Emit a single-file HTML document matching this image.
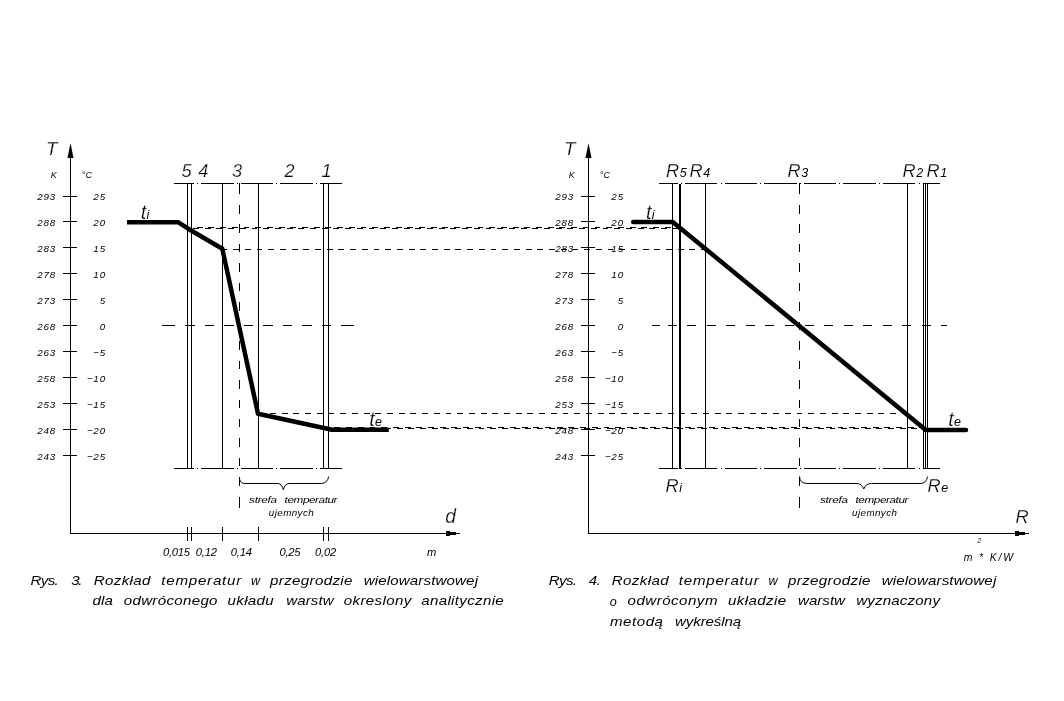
<!DOCTYPE html>
<html lang="pl">
<head>
<meta charset="utf-8">
<title>Rys. 3 i Rys. 4 – Rozkład temperatur w przegrodzie wielowarstwowej</title>
<style>
html,body{margin:0;padding:0;background:#fff;}
body{width:1064px;height:701px;overflow:hidden;}
svg{display:block;will-change:transform;}
text{font-family:"Liberation Sans",sans-serif;font-style:italic;fill:#000;}
.t{stroke:#fff;stroke-width:0.25px;}
.n{}
.s{stroke:none;}
.c{}
</style>
</head>
<body>
<svg width="1064" height="701" viewBox="0 0 1064 701">
<rect width="1064" height="701" fill="#fff"/>
<g id="fig3">
<line x1="70.5" y1="146" x2="70.5" y2="534" stroke="#000" stroke-width="1" shape-rendering="crispEdges"/>
<path d="M70.5 143.5 L69.9 146 L67.5 158 L73.5 158 L71.1 146 Z" fill="#000"/>
<line x1="70.0" y1="533.5" x2="452" y2="533.5" stroke="#000" stroke-width="1" shape-rendering="crispEdges"/>
<line x1="452" y1="533.5" x2="460" y2="533.5" stroke="#000" stroke-width="1" shape-rendering="crispEdges"/>
<rect x="446" y="531" width="4" height="5" fill="#000" shape-rendering="crispEdges"/>
<rect x="450" y="532" width="6" height="3" fill="#000" shape-rendering="crispEdges"/>
<line x1="63.0" y1="196.5" x2="77.0" y2="196.5" stroke="#000" stroke-width="1" shape-rendering="crispEdges"/>
<text x="56.05" y="200" font-size="9.8" class="n" text-anchor="end" letter-spacing="0.85">293</text>
<text x="105.95" y="200" font-size="9.8" class="n" text-anchor="end" letter-spacing="0.85">25</text>
<line x1="63.0" y1="221.5" x2="77.0" y2="221.5" stroke="#000" stroke-width="1" shape-rendering="crispEdges"/>
<text x="56.05" y="226" font-size="9.8" class="n" text-anchor="end" letter-spacing="0.85">288</text>
<text x="105.95" y="226" font-size="9.8" class="n" text-anchor="end" letter-spacing="0.85">20</text>
<line x1="63.0" y1="247.5" x2="77.0" y2="247.5" stroke="#000" stroke-width="1" shape-rendering="crispEdges"/>
<text x="56.05" y="252" font-size="9.8" class="n" text-anchor="end" letter-spacing="0.85">283</text>
<text x="105.95" y="252" font-size="9.8" class="n" text-anchor="end" letter-spacing="0.85">15</text>
<line x1="63.0" y1="273.5" x2="77.0" y2="273.5" stroke="#000" stroke-width="1" shape-rendering="crispEdges"/>
<text x="56.05" y="278" font-size="9.8" class="n" text-anchor="end" letter-spacing="0.85">278</text>
<text x="105.95" y="278" font-size="9.8" class="n" text-anchor="end" letter-spacing="0.85">10</text>
<line x1="63.0" y1="299.5" x2="77.0" y2="299.5" stroke="#000" stroke-width="1" shape-rendering="crispEdges"/>
<text x="56.05" y="304" font-size="9.8" class="n" text-anchor="end" letter-spacing="0.85">273</text>
<text x="105.95" y="304" font-size="9.8" class="n" text-anchor="end" letter-spacing="0.85">5</text>
<line x1="63.0" y1="325.5" x2="77.0" y2="325.5" stroke="#000" stroke-width="1" shape-rendering="crispEdges"/>
<text x="56.05" y="330" font-size="9.8" class="n" text-anchor="end" letter-spacing="0.85">268</text>
<text x="105.95" y="330" font-size="9.8" class="n" text-anchor="end" letter-spacing="0.85">0</text>
<line x1="63.0" y1="351.5" x2="77.0" y2="351.5" stroke="#000" stroke-width="1" shape-rendering="crispEdges"/>
<text x="56.05" y="356" font-size="9.8" class="n" text-anchor="end" letter-spacing="0.85">263</text>
<text x="105.95" y="356" font-size="9.8" class="n" text-anchor="end" letter-spacing="0.85">−5</text>
<line x1="63.0" y1="377.5" x2="77.0" y2="377.5" stroke="#000" stroke-width="1" shape-rendering="crispEdges"/>
<text x="56.05" y="382" font-size="9.8" class="n" text-anchor="end" letter-spacing="0.85">258</text>
<text x="105.95" y="382" font-size="9.8" class="n" text-anchor="end" letter-spacing="0.85">−10</text>
<line x1="63.0" y1="403.5" x2="77.0" y2="403.5" stroke="#000" stroke-width="1" shape-rendering="crispEdges"/>
<text x="56.05" y="408" font-size="9.8" class="n" text-anchor="end" letter-spacing="0.85">253</text>
<text x="105.95" y="408" font-size="9.8" class="n" text-anchor="end" letter-spacing="0.85">−15</text>
<line x1="63.0" y1="429.5" x2="77.0" y2="429.5" stroke="#000" stroke-width="1" shape-rendering="crispEdges"/>
<text x="56.05" y="434" font-size="9.8" class="n" text-anchor="end" letter-spacing="0.85">248</text>
<text x="105.95" y="434" font-size="9.8" class="n" text-anchor="end" letter-spacing="0.85">−20</text>
<line x1="63.0" y1="455.5" x2="77.0" y2="455.5" stroke="#000" stroke-width="1" shape-rendering="crispEdges"/>
<text x="56.05" y="460" font-size="9.8" class="n" text-anchor="end" letter-spacing="0.85">243</text>
<text x="105.95" y="460" font-size="9.8" class="n" text-anchor="end" letter-spacing="0.85">−25</text>
<text x="46.0" y="155" font-size="18.8" class="t">T</text>
<text x="50.8" y="178" font-size="9" class="n">K</text>
<text x="81.8" y="178" font-size="9" class="n">°C</text>
<line x1="173.5" y1="183.5" x2="342" y2="183.5" stroke="#000" stroke-width="1" stroke-dasharray="32.4 3.1 1 3.1" stroke-dashoffset="11.85" shape-rendering="crispEdges"/>
<line x1="173.5" y1="468.5" x2="342" y2="468.5" stroke="#000" stroke-width="1" stroke-dasharray="32.4 3.1 1 3.1" stroke-dashoffset="11.85" shape-rendering="crispEdges"/>
<line x1="187.5" y1="183.5" x2="187.5" y2="468.5" stroke="#000" stroke-width="1" shape-rendering="crispEdges"/>
<line x1="187.5" y1="527" x2="187.5" y2="541" stroke="#000" stroke-width="1" shape-rendering="crispEdges"/>
<line x1="191.5" y1="183.5" x2="191.5" y2="468.5" stroke="#000" stroke-width="1" shape-rendering="crispEdges"/>
<line x1="191.5" y1="527" x2="191.5" y2="541" stroke="#000" stroke-width="1" shape-rendering="crispEdges"/>
<line x1="222.5" y1="183.5" x2="222.5" y2="468.5" stroke="#000" stroke-width="1" shape-rendering="crispEdges"/>
<line x1="222.5" y1="527" x2="222.5" y2="541" stroke="#000" stroke-width="1" shape-rendering="crispEdges"/>
<line x1="258.5" y1="183.5" x2="258.5" y2="468.5" stroke="#000" stroke-width="1" shape-rendering="crispEdges"/>
<line x1="258.5" y1="527" x2="258.5" y2="541" stroke="#000" stroke-width="1" shape-rendering="crispEdges"/>
<line x1="323.5" y1="183.5" x2="323.5" y2="468.5" stroke="#000" stroke-width="1" shape-rendering="crispEdges"/>
<line x1="323.5" y1="527" x2="323.5" y2="541" stroke="#000" stroke-width="1" shape-rendering="crispEdges"/>
<line x1="328.5" y1="183.5" x2="328.5" y2="468.5" stroke="#000" stroke-width="1" shape-rendering="crispEdges"/>
<line x1="328.5" y1="527" x2="328.5" y2="541" stroke="#000" stroke-width="1" shape-rendering="crispEdges"/>
<line x1="239.5" y1="183" x2="239.5" y2="194" stroke="#000" stroke-width="1" shape-rendering="crispEdges"/>
<line x1="239.5" y1="205" x2="239.5" y2="507.5" stroke="#000" stroke-width="1" stroke-dasharray="8.5 10.95" shape-rendering="crispEdges"/>
<line x1="239.5" y1="497" x2="239.5" y2="507.5" stroke="#000" stroke-width="1" shape-rendering="crispEdges"/>
<line x1="162" y1="325.5" x2="175" y2="325.5" stroke="#000" stroke-width="1" shape-rendering="crispEdges"/>
<line x1="185.2" y1="325.5" x2="331" y2="325.5" stroke="#000" stroke-width="1" stroke-dasharray="9.3 10.2" shape-rendering="crispEdges"/>
<line x1="341.3" y1="325.5" x2="354.3" y2="325.5" stroke="#000" stroke-width="1" shape-rendering="crispEdges"/>
<polyline points="127,222.2 178,222.2 189,229.2 222.3,248.7 258,413.75 332,429.7 388.75,429.7" fill="none" stroke="#000" stroke-width="4.5" stroke-linejoin="round"/>
<text x="181.5" y="177" font-size="18.2" class="t">5</text>
<text x="198.25" y="177" font-size="18.2" class="t">4</text>
<text x="232.0" y="177" font-size="18.2" class="t">3</text>
<text x="284.5" y="177" font-size="18.2" class="t">2</text>
<text x="321.5" y="177" font-size="18.2" class="t">1</text>
<text x="140.8" y="219.3" class="t" font-size="20">t<tspan class="s" font-size="12.5" dx="0.2">i</tspan></text>
<text x="369.3" y="426" class="t" font-size="20">t<tspan class="s" font-size="12.5" dx="0.2">e</tspan></text>
<path d="M239.5 479 Q240.5 483.5 245 483.5 L278 483.5 Q282 484 283.3 489.8 Q284.5 484 289 483.5 L321.5 483.5 Q327.5 483 328.7 476.5" fill="none" stroke="#000" stroke-width="1"/>
<text y="503" class="n" font-size="9.8" transform="scale(1.2,1)"><tspan x="207.58" textLength="23.25" lengthAdjust="spacing">strefa</tspan> <tspan x="237.17" textLength="44.08" lengthAdjust="spacing">temperatur</tspan></text>
<text x="268.75" y="516" font-size="9.8" class="n" textLength="45" lengthAdjust="spacing">ujemnych</text>
<text x="163" y="556.2" font-size="11.2" class="n" textLength="27" lengthAdjust="spacing">0,015</text>
<text x="195.75" y="556.2" font-size="11.2" class="n" textLength="21.25" lengthAdjust="spacing">0,12</text>
<text x="230.75" y="556.2" font-size="11.2" class="n" textLength="21.25" lengthAdjust="spacing">0,14</text>
<text x="279.5" y="556.2" font-size="11.2" class="n" textLength="21.0" lengthAdjust="spacing">0,25</text>
<text x="315" y="556.2" font-size="11.2" class="n" textLength="21.25" lengthAdjust="spacing">0,02</text>
<text x="445.3" y="522.7" font-size="19.3" class="t">d</text>
<text x="426.9" y="556" font-size="10.6" class="n" textLength="9.3" lengthAdjust="spacingAndGlyphs">m</text>
</g>
<g id="transfer">
<line x1="193" y1="228.5" x2="680" y2="228.5" stroke="#000" stroke-width="1" stroke-dasharray="5.9 5.8" shape-rendering="crispEdges"/>
<line x1="196.7" y1="227.5" x2="680" y2="227.5" stroke="#000" stroke-width="1" stroke-dasharray="5.9 5.8" shape-rendering="crispEdges"/>
<line x1="221.4" y1="249.5" x2="705.5" y2="249.5" stroke="#000" stroke-width="1" stroke-dasharray="5.9 5.8" shape-rendering="crispEdges"/>
<line x1="258.3" y1="413.5" x2="905" y2="413.5" stroke="#000" stroke-width="1" stroke-dasharray="5.9 5.8" shape-rendering="crispEdges"/>
<line x1="334.4" y1="427.5" x2="925" y2="427.5" stroke="#000" stroke-width="1" stroke-dasharray="5.9 5.8" shape-rendering="crispEdges"/>
<line x1="338.1" y1="428.5" x2="925" y2="428.5" stroke="#000" stroke-width="1" stroke-dasharray="5.9 5.8" shape-rendering="crispEdges"/>
</g>
<g id="fig4">
<line x1="588.5" y1="146" x2="588.5" y2="534" stroke="#000" stroke-width="1" shape-rendering="crispEdges"/>
<path d="M588.5 143.5 L587.9 146 L585.5 158 L591.5 158 L589.1 146 Z" fill="#000"/>
<line x1="588.0" y1="533.5" x2="1020.5" y2="533.5" stroke="#000" stroke-width="1" shape-rendering="crispEdges"/>
<line x1="1020.5" y1="533.5" x2="1028.5" y2="533.5" stroke="#000" stroke-width="1" shape-rendering="crispEdges"/>
<rect x="1014.5" y="531" width="4" height="5" fill="#000" shape-rendering="crispEdges"/>
<rect x="1018.5" y="532" width="6" height="3" fill="#000" shape-rendering="crispEdges"/>
<line x1="581.0" y1="196.5" x2="595.0" y2="196.5" stroke="#000" stroke-width="1" shape-rendering="crispEdges"/>
<text x="574.05" y="200" font-size="9.8" class="n" text-anchor="end" letter-spacing="0.85">293</text>
<text x="623.95" y="200" font-size="9.8" class="n" text-anchor="end" letter-spacing="0.85">25</text>
<line x1="581.0" y1="221.5" x2="595.0" y2="221.5" stroke="#000" stroke-width="1" shape-rendering="crispEdges"/>
<text x="574.05" y="226" font-size="9.8" class="n" text-anchor="end" letter-spacing="0.85">288</text>
<text x="623.95" y="226" font-size="9.8" class="n" text-anchor="end" letter-spacing="0.85">20</text>
<line x1="581.0" y1="247.5" x2="595.0" y2="247.5" stroke="#000" stroke-width="1" shape-rendering="crispEdges"/>
<text x="574.05" y="252" font-size="9.8" class="n" text-anchor="end" letter-spacing="0.85">283</text>
<text x="623.95" y="252" font-size="9.8" class="n" text-anchor="end" letter-spacing="0.85">15</text>
<line x1="581.0" y1="273.5" x2="595.0" y2="273.5" stroke="#000" stroke-width="1" shape-rendering="crispEdges"/>
<text x="574.05" y="278" font-size="9.8" class="n" text-anchor="end" letter-spacing="0.85">278</text>
<text x="623.95" y="278" font-size="9.8" class="n" text-anchor="end" letter-spacing="0.85">10</text>
<line x1="581.0" y1="299.5" x2="595.0" y2="299.5" stroke="#000" stroke-width="1" shape-rendering="crispEdges"/>
<text x="574.05" y="304" font-size="9.8" class="n" text-anchor="end" letter-spacing="0.85">273</text>
<text x="623.95" y="304" font-size="9.8" class="n" text-anchor="end" letter-spacing="0.85">5</text>
<line x1="581.0" y1="325.5" x2="595.0" y2="325.5" stroke="#000" stroke-width="1" shape-rendering="crispEdges"/>
<text x="574.05" y="330" font-size="9.8" class="n" text-anchor="end" letter-spacing="0.85">268</text>
<text x="623.95" y="330" font-size="9.8" class="n" text-anchor="end" letter-spacing="0.85">0</text>
<line x1="581.0" y1="351.5" x2="595.0" y2="351.5" stroke="#000" stroke-width="1" shape-rendering="crispEdges"/>
<text x="574.05" y="356" font-size="9.8" class="n" text-anchor="end" letter-spacing="0.85">263</text>
<text x="623.95" y="356" font-size="9.8" class="n" text-anchor="end" letter-spacing="0.85">−5</text>
<line x1="581.0" y1="377.5" x2="595.0" y2="377.5" stroke="#000" stroke-width="1" shape-rendering="crispEdges"/>
<text x="574.05" y="382" font-size="9.8" class="n" text-anchor="end" letter-spacing="0.85">258</text>
<text x="623.95" y="382" font-size="9.8" class="n" text-anchor="end" letter-spacing="0.85">−10</text>
<line x1="581.0" y1="403.5" x2="595.0" y2="403.5" stroke="#000" stroke-width="1" shape-rendering="crispEdges"/>
<text x="574.05" y="408" font-size="9.8" class="n" text-anchor="end" letter-spacing="0.85">253</text>
<text x="623.95" y="408" font-size="9.8" class="n" text-anchor="end" letter-spacing="0.85">−15</text>
<line x1="581.0" y1="429.5" x2="595.0" y2="429.5" stroke="#000" stroke-width="1" shape-rendering="crispEdges"/>
<text x="574.05" y="434" font-size="9.8" class="n" text-anchor="end" letter-spacing="0.85">248</text>
<text x="623.95" y="434" font-size="9.8" class="n" text-anchor="end" letter-spacing="0.85">−20</text>
<line x1="581.0" y1="455.5" x2="595.0" y2="455.5" stroke="#000" stroke-width="1" shape-rendering="crispEdges"/>
<text x="574.05" y="460" font-size="9.8" class="n" text-anchor="end" letter-spacing="0.85">243</text>
<text x="623.95" y="460" font-size="9.8" class="n" text-anchor="end" letter-spacing="0.85">−25</text>
<text x="564.0" y="155" font-size="18.8" class="t">T</text>
<text x="568.8" y="178" font-size="9" class="n">K</text>
<text x="599.8" y="178" font-size="9" class="n">°C</text>
<line x1="659" y1="183.5" x2="940" y2="183.5" stroke="#000" stroke-width="1" stroke-dasharray="32.4 3.1 1 3.1" stroke-dashoffset="13.6" shape-rendering="crispEdges"/>
<line x1="659" y1="468.5" x2="940" y2="468.5" stroke="#000" stroke-width="1" stroke-dasharray="32.4 3.1 1 3.1" stroke-dashoffset="13.6" shape-rendering="crispEdges"/>
<line x1="672.5" y1="183.5" x2="672.5" y2="468.5" stroke="#000" stroke-width="1" shape-rendering="crispEdges"/>
<line x1="705.5" y1="183.5" x2="705.5" y2="468.5" stroke="#000" stroke-width="1" shape-rendering="crispEdges"/>
<line x1="907.5" y1="183.5" x2="907.5" y2="468.5" stroke="#000" stroke-width="1" shape-rendering="crispEdges"/>
<line x1="923.5" y1="183.5" x2="923.5" y2="468.5" stroke="#000" stroke-width="1" shape-rendering="crispEdges"/>
<line x1="925.5" y1="183.5" x2="925.5" y2="468.5" stroke="#000" stroke-width="1" shape-rendering="crispEdges"/>
<line x1="927.5" y1="183.5" x2="927.5" y2="468.5" stroke="#000" stroke-width="1" shape-rendering="crispEdges"/>
<line x1="680" y1="183.5" x2="680" y2="468.5" stroke="#000" stroke-width="2" shape-rendering="crispEdges"/>
<line x1="799.5" y1="183" x2="799.5" y2="194" stroke="#000" stroke-width="1" shape-rendering="crispEdges"/>
<line x1="799.5" y1="205" x2="799.5" y2="507.5" stroke="#000" stroke-width="1" stroke-dasharray="8.5 10.95" shape-rendering="crispEdges"/>
<line x1="799.5" y1="497" x2="799.5" y2="507.5" stroke="#000" stroke-width="1" shape-rendering="crispEdges"/>
<line x1="652" y1="325.5" x2="660.4" y2="325.5" stroke="#000" stroke-width="1" shape-rendering="crispEdges"/>
<line x1="667.6" y1="325.5" x2="947.4" y2="325.5" stroke="#000" stroke-width="1" stroke-dasharray="9.1 10.46" shape-rendering="crispEdges"/>
<polyline points="633.2,221.9 672.75,221.9 925.75,429.9 966,429.9" fill="none" stroke="#000" stroke-width="4.5" stroke-linejoin="round" stroke-linecap="round"/>
<text x="666" y="177" class="t" font-size="18.2">R<tspan class="s" font-size="12.5" dx="0.5">5</tspan></text>
<text x="689.5" y="177" class="t" font-size="18.2">R<tspan class="s" font-size="12.5" dx="0.5">4</tspan></text>
<text x="787.5" y="177" class="t" font-size="18.2">R<tspan class="s" font-size="12.5" dx="0.5">3</tspan></text>
<text x="902.5" y="177" class="t" font-size="18.2">R<tspan class="s" font-size="12.5" dx="0.5">2</tspan></text>
<text x="926.5" y="177" class="t" font-size="18.2">R<tspan class="s" font-size="12.5" dx="0.5">1</tspan></text>
<text x="665.5" y="492" class="t" font-size="18.2">R<tspan class="s" font-size="12.5" dx="0.5">i</tspan></text>
<text x="927.5" y="492" class="t" font-size="18.2">R<tspan class="s" font-size="12.5" dx="0.5">e</tspan></text>
<text x="646" y="219.3" class="t" font-size="20">t<tspan class="s" font-size="12.5" dx="0.2">i</tspan></text>
<text x="948.3" y="426" class="t" font-size="20">t<tspan class="s" font-size="12.5" dx="0.2">e</tspan></text>
<path d="M799.5 476.5 Q800 483.5 807 483.5 L856 483.5 Q862 483.5 863.8 489 Q865.5 483.5 871.5 483.5 L920 483.5 Q926.5 483.5 927.5 476.5" fill="none" stroke="#000" stroke-width="1"/>
<text y="503" class="n" font-size="9.8" transform="scale(1.2,1)"><tspan x="683.33" textLength="23.33" lengthAdjust="spacing">strefa</tspan> <tspan x="712.92" textLength="44.17" lengthAdjust="spacing">temperatur</tspan></text>
<text x="852" y="516" font-size="9.8" class="n" textLength="45" lengthAdjust="spacing">ujemnych</text>
<text x="1015.5" y="522.5" font-size="18.2" class="t">R</text>
<text x="977.6" y="543.2" font-size="6.4" class="n">2</text>
<text x="963.75" y="560.7" font-size="10.4" class="n" textLength="49.25" lengthAdjust="spacing">m * K/W</text>
</g>
<g id="captions">
<text y="585" class="c" font-size="12.6" transform="scale(1.2,1)"><tspan x="25.42" textLength="23.54" lengthAdjust="spacing">Rys.</tspan> <tspan x="59.38" textLength="9.38" lengthAdjust="spacing">3.</tspan> <tspan x="78.12" textLength="47.29" lengthAdjust="spacing">Rozkład</tspan> <tspan x="134.38" textLength="66.67" lengthAdjust="spacing">temperatur</tspan> <tspan x="225.0" textLength="68.75" lengthAdjust="spacing">przegrodzie</tspan> <tspan x="303.12" textLength="95.21" lengthAdjust="spacing">wielowarstwowej</tspan></text>
<text x="250.95" y="585" class="c" font-size="12.6">w</text>
<text y="605.5" class="c" font-size="12.6" transform="scale(1.2,1)"><tspan x="77.08" textLength="17.08" lengthAdjust="spacing">dla</tspan> <tspan x="103.12" textLength="78.12" lengthAdjust="spacing">odwróconego</tspan> <tspan x="189.58" textLength="38.54" lengthAdjust="spacing">układu</tspan> <tspan x="238.54" textLength="39.58" lengthAdjust="spacing">warstw</tspan> <tspan x="286.46" textLength="56.25" lengthAdjust="spacing">okreslony</tspan> <tspan x="351.04" textLength="68.75" lengthAdjust="spacing">analitycznie</tspan></text>
<text y="585" class="c" font-size="12.6" transform="scale(1.2,1)"><tspan x="457.29" textLength="23.54" lengthAdjust="spacing">Rys.</tspan> <tspan x="490.62" textLength="10.0" lengthAdjust="spacing">4.</tspan> <tspan x="509.79" textLength="47.5" lengthAdjust="spacing">Rozkład</tspan> <tspan x="565.62" textLength="66.67" lengthAdjust="spacing">temperatur</tspan> <tspan x="656.67" textLength="68.75" lengthAdjust="spacing">przegrodzie</tspan> <tspan x="734.79" textLength="95.42" lengthAdjust="spacing">wielowarstwowej</tspan></text>
<text x="768.45" y="585" class="c" font-size="12.6">w</text>
<text y="605.5" class="c" font-size="12.6" transform="scale(1.2,1)"><tspan x="522.92" textLength="75.0" lengthAdjust="spacing">odwróconym</tspan> <tspan x="606.67" textLength="48.54" lengthAdjust="spacing">układzie</tspan> <tspan x="665.0" textLength="39.17" lengthAdjust="spacing">warstw</tspan> <tspan x="713.54" textLength="69.79" lengthAdjust="spacing">wyznaczony</tspan></text>
<text x="609.7" y="605.5" class="c" font-size="12.6">o</text>
<text y="625.75" class="c" font-size="12.6" transform="scale(1.2,1)"><tspan x="508.33" textLength="44.17" lengthAdjust="spacing">metodą</tspan> <tspan x="562.5" textLength="55.21" lengthAdjust="spacing">wykreślną</tspan></text>
</g>
</svg>
</body>
</html>
